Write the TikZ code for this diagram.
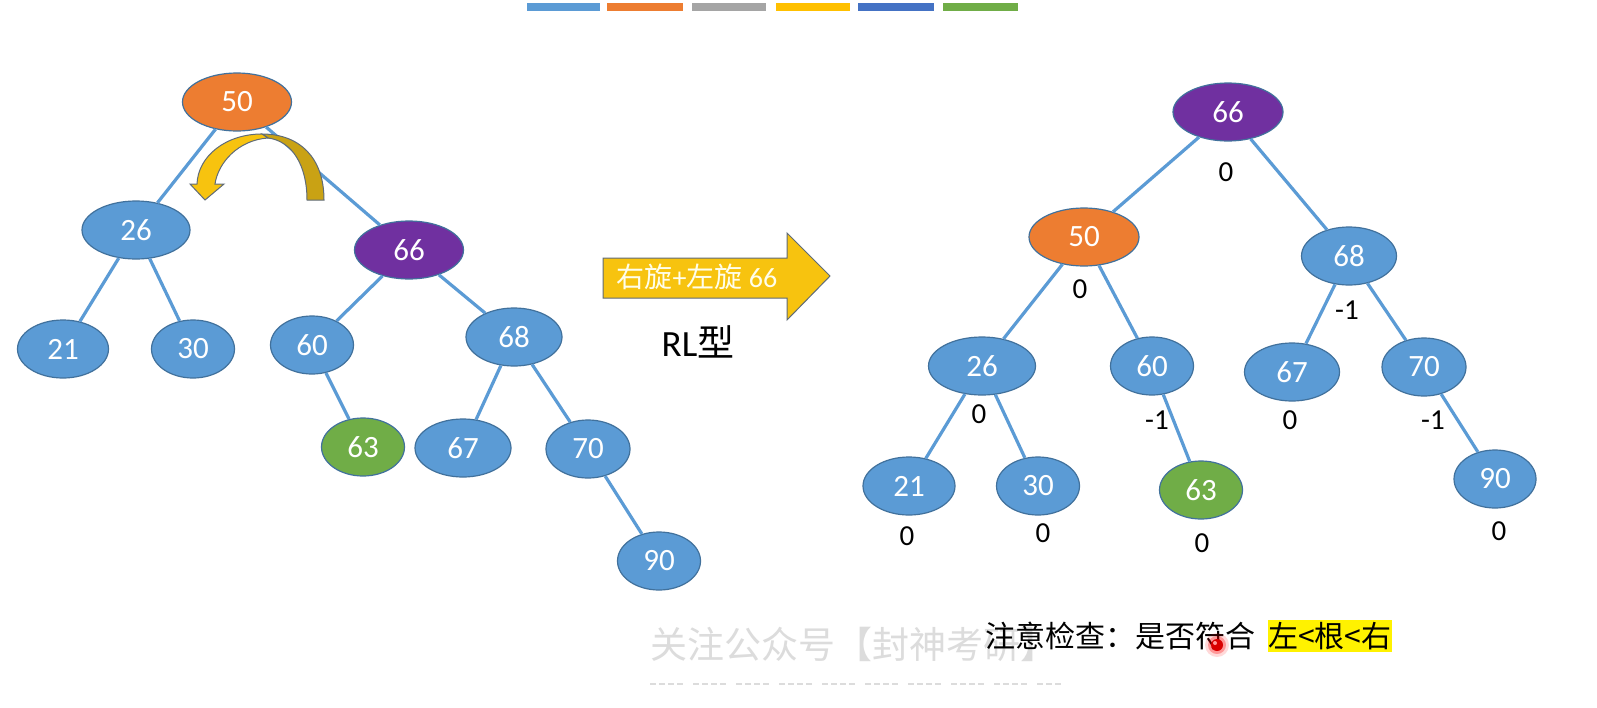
\documentclass[tikz,border=0pt]{standalone}
\usepackage{fontspec}
\setmainfont{Carlito}
\newfontfamily\cjk{Noto Sans CJK SC}
\usetikzlibrary{shapes.geometric}
\definecolor{nblue}{HTML}{5B9BD5}
\definecolor{norange}{HTML}{ED7D31}
\definecolor{npurple}{HTML}{7030A0}
\definecolor{ngreen}{HTML}{70AD47}
\definecolor{nborder}{HTML}{41719C}
\definecolor{edgec}{HTML}{5B9BD5}
\definecolor{barA}{HTML}{5B9BD5}
\definecolor{barB}{HTML}{ED7D31}
\definecolor{barC}{HTML}{A5A5A5}
\definecolor{barD}{HTML}{FFC000}
\definecolor{barE}{HTML}{4472C4}
\definecolor{barF}{HTML}{70AD47}
\definecolor{arrowY}{HTML}{F7C30F}
\definecolor{arrowD}{HTML}{C9A214}
\definecolor{arrowLine}{HTML}{5F6B78}
\definecolor{wmgray}{HTML}{DCDCDC}
\begin{document}
\begin{tikzpicture}[x=1pt,y=-1pt,
  tn/.style={ellipse, draw=nborder, line width=1.2pt, inner sep=0pt, minimum height=58pt,
    text=white, font=\fontsize{31}{33}\selectfont},
  edge/.style={draw=edgec, line width=3.2pt},
  bal/.style={inner sep=0pt, text=black, font=\fontsize{29}{31}\selectfont},
]
\useasboundingbox[fill=white] (0,0) rectangle (1597,707);

% top colour bar
\fill[barA] (527,3) rectangle (600,11);
\fill[barB] (607,3) rectangle (683,11);
\fill[barC] (692,3) rectangle (766,11);
\fill[barD] (776,3) rectangle (850,11);
\fill[barE] (858,3) rectangle (934,11);
\fill[barF] (943,3) rectangle (1018,11);

% ---------- left tree ----------
\node[tn, fill=norange, minimum width=109pt] (L50) at (237,102) {50};
\node[tn, fill=nblue,   minimum width=108pt] (L26) at (136,230) {26};
\node[tn, fill=npurple, minimum width=109pt] (L66) at (409,250) {66};
\node[tn, fill=nblue,   minimum width=91pt]  (L21) at (63,349) {21};
\node[tn, fill=nblue,   minimum width=83pt]  (L30) at (193,349) {30};
\node[tn, fill=nblue,   minimum width=83pt]  (L60) at (312,345) {60};
\node[tn, fill=nblue,   minimum width=96pt]  (L68) at (514,337) {68};
\node[tn, fill=ngreen,  minimum width=83pt]  (L63) at (363,447) {63};
\node[tn, fill=nblue,   minimum width=96pt]  (L67) at (463,448) {67};
\node[tn, fill=nblue,   minimum width=84pt]  (L70) at (588,449) {70};
\node[tn, fill=nblue,   minimum width=83pt]  (L90) at (659,561) {90};

\draw[edge] (L50) -- (L26);
\draw[edge] (L50) -- (L66);
\draw[edge] (L26) -- (L21);
\draw[edge] (L26) -- (L30);
\draw[edge] (L66) -- (L60);
\draw[edge] (L66) -- (L68);
\draw[edge] (L60) -- (L63);
\draw[edge] (L68) -- (L67);
\draw[edge] (L68) -- (L70);
\draw[edge] (L70) -- (L90);

% curved rotation arrow
\filldraw[fill=arrowD, draw=arrowLine, line width=1pt]
  (324,200) .. controls (324,158) and (300,134) .. (262,134)
  -- (268,138) .. controls (292,141) and (307,165) .. (307,200) -- cycle;
\filldraw[fill=arrowY, draw=arrowLine, line width=1pt]
  (262,134) .. controls (226,134) and (198,156) .. (197,184)
  -- (190,184) -- (205,200) -- (224,184) -- (215,184)
  .. controls (218,163) and (238,140) .. (268,138) -- cycle;

% big arrow
\filldraw[fill=arrowY, draw=arrowLine, line width=1pt]
  (603,258) -- (787,258) -- (787,233) -- (830,276) -- (787,320) -- (787,298) -- (603,298) -- cycle;
\node[inner sep=0pt, text=white!92!yellow, font=\fontsize{28}{30}\selectfont] (arrtxt) at (697,277) {{\cjk 右旋}+{\cjk 左旋} 66};
\node[inner sep=0pt, font=\fontsize{37}{39}\selectfont] (rl) at (698,342) {RL{\cjk 型}};

% ---------- right tree ----------
\node[tn, fill=npurple, minimum width=110pt] (R66) at (1228,112) {66};
\node[tn, fill=norange, minimum width=110pt] (R50) at (1084,237) {50};
\node[tn, fill=nblue,   minimum width=95pt]  (R68) at (1349,256) {68};
\node[tn, fill=nblue,   minimum width=107pt] (R26) at (982,366) {26};
\node[tn, fill=nblue,   minimum width=83pt]  (R60) at (1152,366) {60};
\node[tn, fill=nblue,   minimum width=95pt]  (R67) at (1292,372) {67};
\node[tn, fill=nblue,   minimum width=84pt]  (R70) at (1424,367) {70};
\node[tn, fill=nblue,   minimum width=92pt]  (R21) at (909,486) {21};
\node[tn, fill=nblue,   minimum width=83pt]  (R30) at (1038,486) {30};
\node[tn, fill=ngreen,  minimum width=83pt]  (R63) at (1201,490) {63};
\node[tn, fill=nblue,   minimum width=82pt]  (R90) at (1495,479) {90};

\draw[edge] (R66) -- (R50);
\draw[edge] (R66) -- (R68);
\draw[edge] (R50) -- (R26);
\draw[edge] (R50) -- (R60);
\draw[edge] (R68) -- (R67);
\draw[edge] (R68) -- (R70);
\draw[edge] (R26) -- (R21);
\draw[edge] (R26) -- (R30);
\draw[edge] (R60) -- (R63);
\draw[edge] (R70) -- (R90);

% balance factors
\node[bal] (b66) at (1226,172) {0};
\node[bal] (b50) at (1080,289) {0};
\node[bal] (b68) at (1347,310) {-1};
\node[bal] (b26) at (979,414) {0};
\node[bal] (b60) at (1157,420) {-1};
\node[bal] (b67) at (1290,420) {0};
\node[bal] (b70) at (1433,420) {-1};
\node[bal] (b21) at (907,536) {0};
\node[bal] (b30) at (1043,533) {0};
\node[bal] (b63) at (1202,543) {0};
\node[bal] (b90) at (1499,531) {0};

% watermark
\node[inner sep=0pt, text=wmgray, font=\cjk\fontsize{37}{40}\selectfont] (wm) at (854,644) {关注公众号【封神考研】};
\draw[wmgray, line width=1.5pt, dash pattern=on 6pt off 3pt on 6pt off 3pt on 6pt off 3pt on 6pt off 10pt] (650,684) -- (1062,684);

% check text
\node[inner sep=0pt, anchor=west, text=black, font=\cjk\fontsize{30}{32}\selectfont] (chk) at (985,636) {注意检查：是否符合};
\node[inner sep=0pt, anchor=west, fill=yellow, minimum height=32pt, text=black, font=\cjk\fontsize{30}{32}\selectfont] (hl) at (1268,636) {左<根<右};

% cursor dot
\fill[red, opacity=0.15] (1217,645) circle (12);
\fill[red, opacity=0.3] (1217,645) circle (9);
\fill[red!85!black] (1217,645) circle (6);
\fill[red!40!white] (1215,643) circle (2);
\end{tikzpicture}
\end{document}
